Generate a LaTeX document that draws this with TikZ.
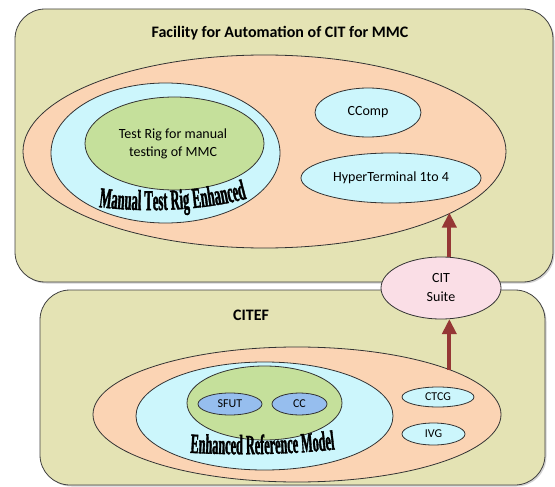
\documentclass[tikz,border=0pt]{standalone}
\usepackage{fontspec}
\setmainfont{Carlito}
\newfontfamily\wordart[FakeStretch=0.44,FakeBold=1.2]{Liberation Serif}
\usetikzlibrary{shapes.geometric,arrows.meta,decorations.text,shadows}
\definecolor{khaki}{RGB}{228,227,180}
\definecolor{peach}{RGB}{251,212,180}
\definecolor{skyc}{RGB}{204,246,252}
\definecolor{leaf}{RGB}{197,224,155}
\definecolor{bluec}{RGB}{150,190,238}
\definecolor{pinkc}{RGB}{250,222,230}
\definecolor{arrowred}{RGB}{149,55,53}
\begin{document}
\begin{tikzpicture}[x=1pt,y=-1pt,
  box/.style={draw=black!75, line width=0.8pt, fill=khaki, rounded corners=30pt,
    drop shadow={shadow xshift=1.5pt, shadow yshift=-1.5pt, opacity=0.35}},
  ell/.style={ellipse, draw=black!80, line width=0.8pt, inner sep=0pt},
  title/.style={font=\bfseries\fontsize{16}{19}\selectfont},
  lbl/.style={font=\fontsize{14}{18}\selectfont, align=center},
  small/.style={font=\fontsize{12}{14}\selectfont},
  arr/.style={draw=arrowred, line width=4pt, -{Triangle[width=14pt,length=15pt]}}
]
\useasboundingbox (0,0) rectangle (555,487);

% outer boxes
\draw[box] (15,9) rectangle (553,282);
\draw[box] (40,290) rectangle (545,485);

% titles
\node[title] (t1) at (280,33) {Facility for Automation of CIT for MMC};
\node[title] (t2) at (251,315) {CITEF};

% top group
\node[ell, fill=peach, minimum width=483pt, minimum height=193pt] (topell) at (264.5,151.5) {};
\node[ell, fill=skyc, minimum width=229pt, minimum height=140pt] (mtr) at (165.5,153) {};
\node[ell, fill=leaf, minimum width=179pt, minimum height=93pt] (rig) at (174.5,143.5) {};
\node[lbl] (rigt) at (173,144) {Test Rig for manual\\testing of MMC};
\path[decorate, decoration={text along path, text align=center,
  text={|\wordart\bfseries\fontsize{29}{31}\selectfont|Manual Test Rig Enhanced}}]
  (80,204) .. controls (130,214) and (210,213) .. (265,193);
\node[ell, fill=skyc, minimum width=106pt, minimum height=49pt] (ccomp) at (368,112.5) {};
\node[lbl] (ccompt) at (368,112.5) {CComp};
\node[ell, fill=skyc, minimum width=180pt, minimum height=50pt] (hyper) at (391,178) {};
\node[lbl] (hypert) at (391,178) {HyperTerminal 1to 4};

% bottom group
\node[ell, fill=peach, minimum width=408pt, minimum height=135pt] (botell) at (297,414.5) {};
\node[ell, fill=skyc, minimum width=257pt, minimum height=108pt] (erm) at (264.5,416) {};
\node[ell, fill=leaf, minimum width=155pt, minimum height=74pt] (core) at (264.5,403) {};
\node[ell, fill=bluec, minimum width=64pt, minimum height=22pt] (sfut) at (230,404) {};
\node[small] (sfutt) at (230,404) {SFUT};
\node[ell, fill=bluec, minimum width=55pt, minimum height=22pt] (cc) at (299.5,404) {};
\node[small] (cct) at (299.5,404) {CC};
\path[decorate, decoration={text along path, text align=center,
  text={|\wordart\bfseries\fontsize{28}{30}\selectfont|Enhanced Reference Model}}]
  (165,451) .. controls (220,456) and (300,456) .. (360,446);
\node[ell, fill=skyc, minimum width=72pt, minimum height=20pt] (ctcg) at (438,397) {};
\node[small] (ctcgt) at (438,397) {CTCG};
\node[ell, fill=skyc, minimum width=63pt, minimum height=22pt] (ivg) at (433.5,434) {};
\node[small] (ivgt) at (433.5,434) {IVG};

% CIT suite
\node[ell, fill=pinkc, minimum width=120pt, minimum height=62pt] (cit) at (441,288) {};
\node[lbl, font=\fontsize{14}{19}\selectfont] (citt) at (441,288) {CIT\\Suite};

% arrows
\draw[arr] (cit.75) -- (cit.75 |- topell.-18.7);
\draw[arr] (cit.-75 |- botell.16.5) -- (cit.-75);
\end{tikzpicture}
\end{document}
